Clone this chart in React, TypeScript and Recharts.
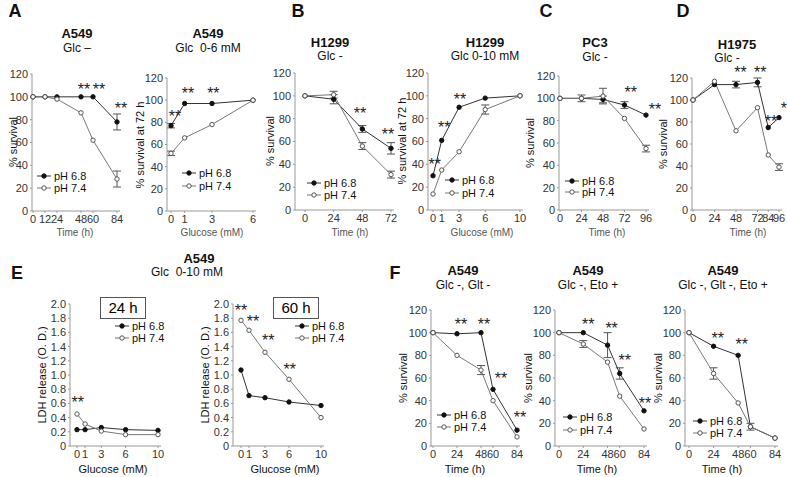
import React from 'react';
import { LineChart, Line, XAxis, YAxis, ErrorBar, ReferenceDot } from 'recharts';

const FONT = '"Liberation Sans", Arial, sans-serif';

const survivalTicks = [0, 20, 40, 60, 80, 100, 120];
const ldhTicks = [0, 0.2, 0.4, 0.6, 0.8, 1.0, 1.2, 1.4, 1.6, 1.8, 2.0];
const legendLabels = ['pH 6.8', 'pH 7.4'];

// A - A549 Glc -
const a1Time = [0, 12, 24, 48, 60, 84];
const a1Ph68 = [100, 100, 100, 100, 100, 78];
const a1Ph74 = [100, 100, 98, 86, 62, 28];
const a1Err68 = [0, 0, 0, 0, 0, 7];
const a1Err74 = [0, 0, 0, 0, 0, 7];
const a1Stars = [[51, 107], [66, 107], [88, 90]];

// A - A549 Glc 0-6 mM
const a2Glc = [0, 1, 3, 6];
const a2Ph68 = [77, 97, 97, 100];
const a2Ph74 = [52, 66, 78, 100];
const a2Err68 = [2, 0, 0, 0];
const a2Err74 = [2, 0, 0, 0];
const a2Stars = [[0.3, 85], [1.25, 106], [3.1, 106]];

// B - H1299 Glc -
const b1Time = [0, 24, 48, 72];
const b1Ph68 = [100, 97, 71, 54];
const b1Ph74 = [100, 101, 56, 31];
const b1Err68 = [0, 4, 3, 5];
const b1Err74 = [0, 3, 3, 3];
const b1Stars = [[46, 85], [69.5, 66]];

// B - H1299 Glc 0-10 mM
const b2Glc = [0, 1, 3, 6, 10];
const b2Ph68 = [30, 61, 90, 98, 100];
const b2Ph74 = [14, 35, 51, 88, 100];
const b2Err68 = [0, 0, 0, 0, 0];
const b2Err74 = [0, 0, 0, 4, 0];
const b2Stars = [[0.2, 40], [1.3, 72], [3.1, 97]];

// C - PC3 Glc -
const cTime = [0, 24, 48, 72, 96];
const cTicks = [0, 24, 48, 72, 96];
const cPh68 = [100, 100, 99, 94, 85];
const cPh74 = [100, 100, 102, 82, 55];
const cErr68 = [0, 0, 3, 3, 0];
const cErr74 = [0, 3, 7, 0, 3];
const cStars = [[79, 105], [106, 90]];

// D - H1975 Glc -
const dTime = [0, 24, 48, 72, 84, 96];
const dPh68 = [100, 114, 114, 116, 75, 84];
const dPh74 = [100, 117, 72, 93, 50, 39];
const dErr68 = [0, 0, 3, 4, 0, 0];
const dErr74 = [0, 0, 0, 0, 0, 3];
const dStars = [[53, 125], [75, 125], [87, 81], [105, 92]];

// E - LDH release
const eGlc = [0, 1, 3, 6, 10];
const e24Ph68 = [0.23, 0.23, 0.26, 0.23, 0.22];
const e24Ph74 = [0.45, 0.31, 0.21, 0.16, 0.16];
const e24Stars = [[0.1, 0.61]];
const e60Ph68 = [1.07, 0.71, 0.68, 0.62, 0.57];
const e60Ph74 = [1.77, 1.63, 1.32, 0.94, 0.4];
const e60Stars = [[0, 1.91], [1.5, 1.75], [3.4, 1.49], [6.1, 1.08]];
const eNoErr = [0, 0, 0, 0, 0];

// F - A549 combined deprivation
const fTime = [0, 24, 48, 60, 84];
const f1Ph68 = [100, 99, 100, 50, 14];
const f1Ph74 = [100, 80, 67, 40, 8];
const f1Err68 = [0, 0, 0, 0, 0];
const f1Err74 = [0, 0, 4, 0, 0];
const f1Stars = [[28, 107], [51, 107], [68, 60], [87, 25]];
const f2Ph68 = [100, 100, 89, 64, 31];
const f2Ph74 = [100, 90, 74, 44, 15];
const f2Err68 = [0, 0, 11, 5, 0];
const f2Err74 = [0, 3, 0, 0, 0];
const f2Stars = [[29, 107], [52, 104], [65, 76], [85, 38]];
const f3Ph68 = [100, 88, 80, 17, 7];
const f3Ph74 = [100, 64, 38, 17, 7];
const f3Err68 = [0, 0, 0, 0, 0];
const f3Err74 = [0, 5, 0, 3, 0];
const f3Stars = [[28, 95], [51.5, 90]];

type PanelProps = {
  axisX: number;
  x0: number;
  x1: number;
  yTop: number;
  yBottom: number;
  xs: number[];
  xTicks: number[];
  ph68: number[];
  ph74: number[];
  err68: number[];
  err74: number[];
  stars: number[][];
  yTicks: number[];
  fmt?: (v: number) => string;
};

const Panel = ({ axisX, x0, x1, yTop, yBottom, xs, xTicks, ph68, ph74, err68, err74, stars, yTicks, fmt }: PanelProps) => {
  const yw = 32;
  const mt = 14;
  const mr = 14;
  const xh = 24;
  const plotRight = x1 + 3;
  const rows = xs.map((x, i) => ({ x, a: ph68[i], b: ph74[i], ea: err68[i], eb: err74[i] }));
  const tick = { fontSize: 11, fill: '#333', fontFamily: FONT };
  return (
    <div style={{ position: 'absolute', left: axisX - yw, top: yTop - mt }}>
      <LineChart
        width={yw + plotRight - axisX + mr}
        height={yBottom - yTop + mt + xh}
        data={rows}
        margin={{ top: mt, right: mr, left: 0, bottom: 0 }}
        style={{ overflow: 'visible' }}
      >
        <XAxis
          type="number"
          dataKey="x"
          domain={[xTicks[0], xTicks[xTicks.length - 1]]}
          ticks={xTicks}
          interval={0}
          padding={{ left: x0 - axisX, right: plotRight - x1 }}
          height={xh}
          tick={tick}
          tickSize={2}
          tickMargin={2}
          stroke="#999"
        />
        <YAxis
          type="number"
          domain={[yTicks[0], yTicks[yTicks.length - 1]]}
          ticks={yTicks}
          interval={0}
          width={yw}
          tick={tick}
          tickSize={2}
          tickMargin={2}
          tickFormatter={fmt}
          stroke="#999"
        />
        <Line dataKey="a" stroke="#333" strokeWidth={1} isAnimationActive={false}
          dot={{ r: 2.2, fill: '#111', stroke: '#111', strokeWidth: 1 }}>
          <ErrorBar dataKey="ea" width={4} stroke="#555" strokeWidth={1} direction="y" />
        </Line>
        <Line dataKey="b" stroke="#777" strokeWidth={1} isAnimationActive={false}
          dot={{ r: 2.2, fill: '#fff', stroke: '#555', strokeWidth: 1 }}>
          <ErrorBar dataKey="eb" width={4} stroke="#555" strokeWidth={1} direction="y" />
        </Line>
        {stars.map(([sx, sy], i) => (
          <ReferenceDot key={i} x={sx} y={sy} r={1} fill="none" stroke="none" ifOverflow="visible"
            label={{ value: '**', position: 'center', fontSize: 16, fill: '#222', fontFamily: FONT }} />
        ))}
      </LineChart>
    </div>
  );
};

const Txt = ({ x, y, size = 11, bold = false, rotate = false, color = '#111', children }: any) => (
  <div
    style={{
      position: 'absolute', left: x, top: y, fontSize: size, fontWeight: bold ? 700 : 400,
      whiteSpace: 'pre', lineHeight: 1, color,
      transform: rotate ? 'translate(-50%,-50%) rotate(-90deg)' : 'translate(-50%,-50%)',
    }}
  >
    {children}
  </div>
);

const Key = ({ x, y, open }: { x: number; y: number; open: boolean }) => (
  <div style={{ position: 'absolute', left: x, top: y - 6, display: 'flex', alignItems: 'center', fontSize: 11, lineHeight: '12px', color: '#111' }}>
    <svg width={14} height={8}>
      <line x1={0} y1={4} x2={14} y2={4} stroke={open ? '#777' : '#333'} strokeWidth={1} />
      <circle cx={7} cy={4} r={2.2} fill={open ? '#fff' : '#111'} stroke={open ? '#555' : '#111'} />
    </svg>
    <span style={{ marginLeft: 3 }}>{open ? legendLabels[1] : legendLabels[0]}</span>
  </div>
);

const Legend2 = ({ x, y1, y2 }: { x: number; y1: number; y2: number }) => (
  <>
    <Key x={x} y={y1} open={false} />
    <Key x={x} y={y2} open={true} />
  </>
);

const fmtLdh = (v: number) => (v === 0 ? '0' : v.toFixed(1));

export default function App() {
  return (
    <div style={{ position: 'absolute', left: 0, top: 0, width: 787, height: 477, background: '#fff', fontFamily: FONT, overflow: 'hidden' }}>
      {/* panel letters */}
      <Txt x={15} y={11} size={18} bold>A</Txt>
      <Txt x={298} y={11} size={18} bold>B</Txt>
      <Txt x={546} y={11} size={18} bold>C</Txt>
      <Txt x={683} y={11} size={18} bold>D</Txt>
      <Txt x={17} y={273} size={18} bold>E</Txt>
      <Txt x={395} y={273} size={18} bold>F</Txt>

      {/* titles */}
      <Txt x={77} y={33} size={13} bold>A549</Txt>
      <Txt x={77} y={48} size={12}>Glc –</Txt>
      <Txt x={208} y={33} size={13} bold>A549</Txt>
      <Txt x={208} y={48} size={12}>Glc  0-6 mM</Txt>
      <Txt x={330} y={42} size={13} bold>H1299</Txt>
      <Txt x={330} y={56} size={12}>Glc -</Txt>
      <Txt x={485} y={42} size={13} bold>H1299</Txt>
      <Txt x={485} y={56} size={12}>Glc 0-10 mM</Txt>
      <Txt x={595} y={42} size={13} bold>PC3</Txt>
      <Txt x={595} y={57} size={12}>Glc -</Txt>
      <Txt x={737} y={44} size={13} bold>H1975</Txt>
      <Txt x={727} y={58} size={12}>Glc -</Txt>
      <Txt x={199} y={258} size={13} bold>A549</Txt>
      <Txt x={187} y={272} size={12}>Glc  0-10 mM</Txt>
      <Txt x={463} y={270} size={13} bold>A549</Txt>
      <Txt x={463} y={285} size={12}>Glc -, Glt -</Txt>
      <Txt x={588} y={270} size={13} bold>A549</Txt>
      <Txt x={588} y={285} size={12}>Glc -, Eto +</Txt>
      <Txt x={723} y={270} size={13} bold>A549</Txt>
      <Txt x={723} y={285} size={12}>Glc -, Glt -, Eto +</Txt>

      {/* top row */}
      <Panel axisX={32} x0={33} x1={117} yTop={74} yBottom={211} xs={a1Time} xTicks={a1Time}
        ph68={a1Ph68} ph74={a1Ph74} err68={a1Err68} err74={a1Err74} stars={a1Stars} yTicks={survivalTicks} />
      <Panel axisX={167} x0={171} x1={253} yTop={78} yBottom={211} xs={a2Glc} xTicks={a2Glc}
        ph68={a2Ph68} ph74={a2Ph74} err68={a2Err68} err74={a2Err74} stars={a2Stars} yTicks={survivalTicks} />
      <Panel axisX={295} x0={305} x1={391} yTop={73} yBottom={210} xs={b1Time} xTicks={b1Time}
        ph68={b1Ph68} ph74={b1Ph74} err68={b1Err68} err74={b1Err74} stars={b1Stars} yTicks={survivalTicks} />
      <Panel axisX={428} x0={433} x1={520} yTop={73} yBottom={210} xs={b2Glc} xTicks={b2Glc}
        ph68={b2Ph68} ph74={b2Ph74} err68={b2Err68} err74={b2Err74} stars={b2Stars} yTicks={survivalTicks} />
      <Panel axisX={559} x0={560} x1={646} yTop={76} yBottom={210} xs={cTime} xTicks={cTicks}
        ph68={cPh68} ph74={cPh74} err68={cErr68} err74={cErr74} stars={cStars} yTicks={survivalTicks} />
      <Panel axisX={692} x0={693} x1={779} yTop={78} yBottom={210} xs={dTime} xTicks={dTime}
        ph68={dPh68} ph74={dPh74} err68={dErr68} err74={dErr74} stars={dStars} yTicks={survivalTicks} />

      {/* bottom row */}
      <Panel axisX={70} x0={77} x1={158} yTop={304} yBottom={446} xs={eGlc} xTicks={eGlc}
        ph68={e24Ph68} ph74={e24Ph74} err68={eNoErr} err74={eNoErr} stars={e24Stars} yTicks={ldhTicks} fmt={fmtLdh} />
      <Panel axisX={233} x0={241} x1={321} yTop={304} yBottom={446} xs={eGlc} xTicks={eGlc}
        ph68={e60Ph68} ph74={e60Ph74} err68={eNoErr} err74={eNoErr} stars={e60Stars} yTicks={ldhTicks} fmt={fmtLdh} />
      <Panel axisX={431} x0={433} x1={517} yTop={310} yBottom={446} xs={fTime} xTicks={fTime}
        ph68={f1Ph68} ph74={f1Ph74} err68={f1Err68} err74={f1Err74} stars={f1Stars} yTicks={survivalTicks} />
      <Panel axisX={555} x0={559} x1={644} yTop={310} yBottom={446} xs={fTime} xTicks={fTime}
        ph68={f2Ph68} ph74={f2Ph74} err68={f2Err68} err74={f2Err74} stars={f2Stars} yTicks={survivalTicks} />
      <Panel axisX={685} x0={689} x1={775} yTop={310} yBottom={446} xs={fTime} xTicks={fTime}
        ph68={f3Ph68} ph74={f3Ph74} err68={f3Err68} err74={f3Err74} stars={f3Stars} yTicks={survivalTicks} />

      {/* E boxes */}
      <div style={{ position: 'absolute', left: 100, top: 297, width: 44, height: 20, border: '1px solid #555', fontSize: 15, lineHeight: '20px', textAlign: 'center' }}>24 h</div>
      <div style={{ position: 'absolute', left: 273, top: 297, width: 44, height: 20, border: '1px solid #555', fontSize: 15, lineHeight: '20px', textAlign: 'center' }}>60 h</div>

      {/* axis titles */}
      <Txt x={13} y={142} size={11} rotate>% survival</Txt>
      <Txt x={140} y={145} size={11} rotate>% survival at 72 h</Txt>
      <Txt x={270} y={141} size={11} rotate>% survival</Txt>
      <Txt x={402} y={141} size={11} rotate>% survival at 72 h</Txt>
      <Txt x={530} y={143} size={11} rotate>% survival</Txt>
      <Txt x={663} y={144} size={11} rotate>% survival</Txt>
      <Txt x={42} y={375} size={11} rotate>LDH release (O. D.)</Txt>
      <Txt x={205} y={375} size={11} rotate>LDH release (O. D.)</Txt>
      <Txt x={403} y={378} size={11} rotate>% survival</Txt>
      <Txt x={528} y={378} size={11} rotate>% survival</Txt>
      <Txt x={658} y={378} size={11} rotate>% survival</Txt>

      <Txt x={75} y={233} size={10} color="#555">Time (h)</Txt>
      <Txt x={212} y={233} size={10} color="#555">Glucose (mM)</Txt>
      <Txt x={350} y={233} size={10} color="#555">Time (h)</Txt>
      <Txt x={482} y={233} size={10} color="#555">Glucose (mM)</Txt>
      <Txt x={607} y={233} size={10} color="#555">Time (h)</Txt>
      <Txt x={748} y={233} size={10} color="#555">Time (h)</Txt>
      <Txt x={113} y={469} size={11}>Glucose (mM)</Txt>
      <Txt x={285} y={469} size={11}>Glucose (mM)</Txt>
      <Txt x={465} y={469} size={11}>Time (h)</Txt>
      <Txt x={597} y={469} size={11}>Time (h)</Txt>
      <Txt x={722} y={469} size={11}>Time (h)</Txt>

      {/* legends */}
      <Legend2 x={37} y1={176} y2={188} />
      <Legend2 x={182} y1={173} y2={186} />
      <Legend2 x={307} y1={183} y2={195} />
      <Legend2 x={445} y1={180} y2={193} />
      <Legend2 x={565} y1={181} y2={192} />
      <Legend2 x={115} y1={326} y2={338} />
      <Legend2 x={295} y1={326} y2={338} />
      <Legend2 x={437} y1={415} y2={427} />
      <Legend2 x={563} y1={417} y2={430} />
      <Legend2 x={693} y1={421} y2={433} />
    </div>
  );
}
